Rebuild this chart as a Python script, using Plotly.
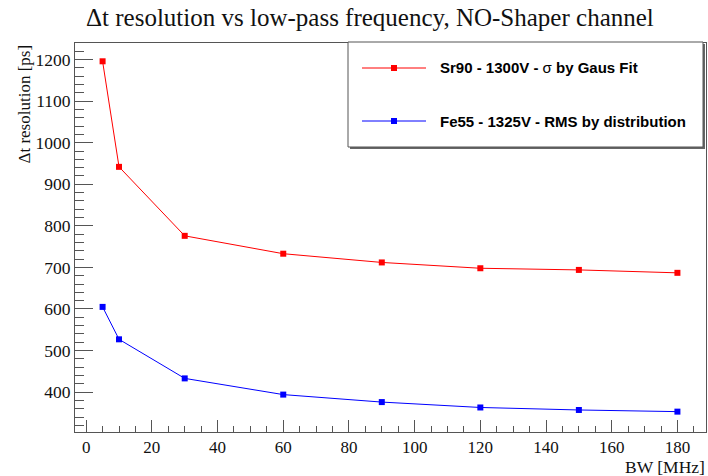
import plotly.graph_objects as go

# ---- data ----
bw_mhz = [5, 10, 30, 60, 90, 120, 150, 180]
sr90_sigma_ps = [1196, 942, 776, 733, 712, 698, 694, 687]
fe55_rms_ps = [605, 527, 433, 394, 376, 363, 357, 353]

title_text = "Δt resolution vs low-pass frequency, NO-Shaper channel"
x_title = "BW [MHz]"
y_title = "Δt resolution [ps]"
leg_sr90 = "<b>Sr90 - 1300V - </b>σ<b> by Gaus Fit</b>"
leg_fe55 = "<b>Fe55 - 1325V - RMS by distribution</b>"

W, H = 708, 476
L, R, T, B = 75, 2, 43, 44
PW, PH = W - L - R, H - T - B


def px(x):
    return (x - L) / PW


def py(y):
    return (H - B - y) / PH


serif = "Liberation Serif, Times New Roman, serif"
sans = "Liberation Sans, Arial, Helvetica, sans-serif"
frame_col = "#555555"

fig = go.Figure()
fig.add_trace(go.Scatter(x=bw_mhz, y=sr90_sigma_ps, mode="lines+markers",
                         line=dict(color="#ff0000", width=1),
                         marker=dict(symbol="square", size=6, color="#ff0000"),
                         showlegend=False))
fig.add_trace(go.Scatter(x=bw_mhz, y=fe55_rms_ps, mode="lines+markers",
                         line=dict(color="#0000ff", width=1),
                         marker=dict(symbol="square", size=6, color="#0000ff"),
                         showlegend=False))

fig.update_layout(
    width=W, height=H,
    margin=dict(l=L, r=R, t=T, b=B),
    paper_bgcolor="white", plot_bgcolor="white",
    showlegend=False,
    font=dict(family=serif, color="black"),
)
fig.update_xaxes(range=[-3.4, 188.7], showgrid=False, zeroline=False,
                 showline=True, mirror=True, linecolor=frame_col, linewidth=1,
                 ticks="inside", ticklen=12, tickcolor=frame_col, tickwidth=1,
                 dtick=20, tick0=0, tickfont=dict(family=serif, size=17, color="#111"),
                 minor=dict(ticks="inside", ticklen=6, dtick=5, tick0=0, tickcolor=frame_col))
fig.update_yaxes(range=[304, 1240], showgrid=False, zeroline=False,
                 showline=True, mirror=True, linecolor=frame_col, linewidth=1,
                 ticks="inside", ticklen=18, tickcolor=frame_col, tickwidth=1,
                 dtick=100, tick0=0, tickfont=dict(family=serif, size=17.5, color="#111"),
                 minor=dict(ticks="inside", ticklen=9, dtick=20, tick0=0, tickcolor=frame_col))

ann = []
ann.append(dict(text=title_text, x=px(370), y=py(18), xref="paper", yref="paper",
                xanchor="center", yanchor="middle", showarrow=False,
                font=dict(family=serif, size=25, color="#111")))
ann.append(dict(text=x_title, x=px(707), y=py(466.5), xref="paper", yref="paper",
                xanchor="right", yanchor="middle", showarrow=False,
                font=dict(family=serif, size=17.5, color="#111")))
ann.append(dict(text=y_title, x=px(24), y=py(42), xref="paper", yref="paper",
                xanchor="center", yanchor="top", textangle=-90, showarrow=False,
                font=dict(family=serif, size=17, color="#111")))
ann.append(dict(text=leg_sr90, x=px(438), y=py(68), xref="paper", yref="paper",
                xanchor="left", yanchor="middle", showarrow=False,
                font=dict(family=sans, size=15, color="black")))
ann.append(dict(text=leg_fe55, x=px(438), y=py(121), xref="paper", yref="paper",
                xanchor="left", yanchor="middle", showarrow=False,
                font=dict(family=sans, size=15, color="black")))

shapes = []
# legend shadow and box
shapes.append(dict(type="rect", xref="paper", yref="paper",
                   x0=px(350), x1=px(705), y0=py(149), y1=py(44),
                   fillcolor="#666666", line=dict(width=0), layer="above"))
shapes.append(dict(type="rect", xref="paper", yref="paper",
                   x0=px(348), x1=px(703), y0=py(147), y1=py(42),
                   fillcolor="white", line=dict(color="#555555", width=1), layer="above"))
for yy, col in [(68, "#ff0000"), (121, "#0000ff")]:
    shapes.append(dict(type="line", xref="paper", yref="paper",
                       x0=px(362), x1=px(426), y0=py(yy), y1=py(yy),
                       line=dict(color=col, width=1), layer="above"))
    shapes.append(dict(type="rect", xref="paper", yref="paper",
                       x0=px(391), x1=px(397), y0=py(yy + 3), y1=py(yy - 3),
                       fillcolor=col, line=dict(width=0), layer="above"))

fig.update_layout(annotations=ann, shapes=shapes)
fig.write_html("out.html")
